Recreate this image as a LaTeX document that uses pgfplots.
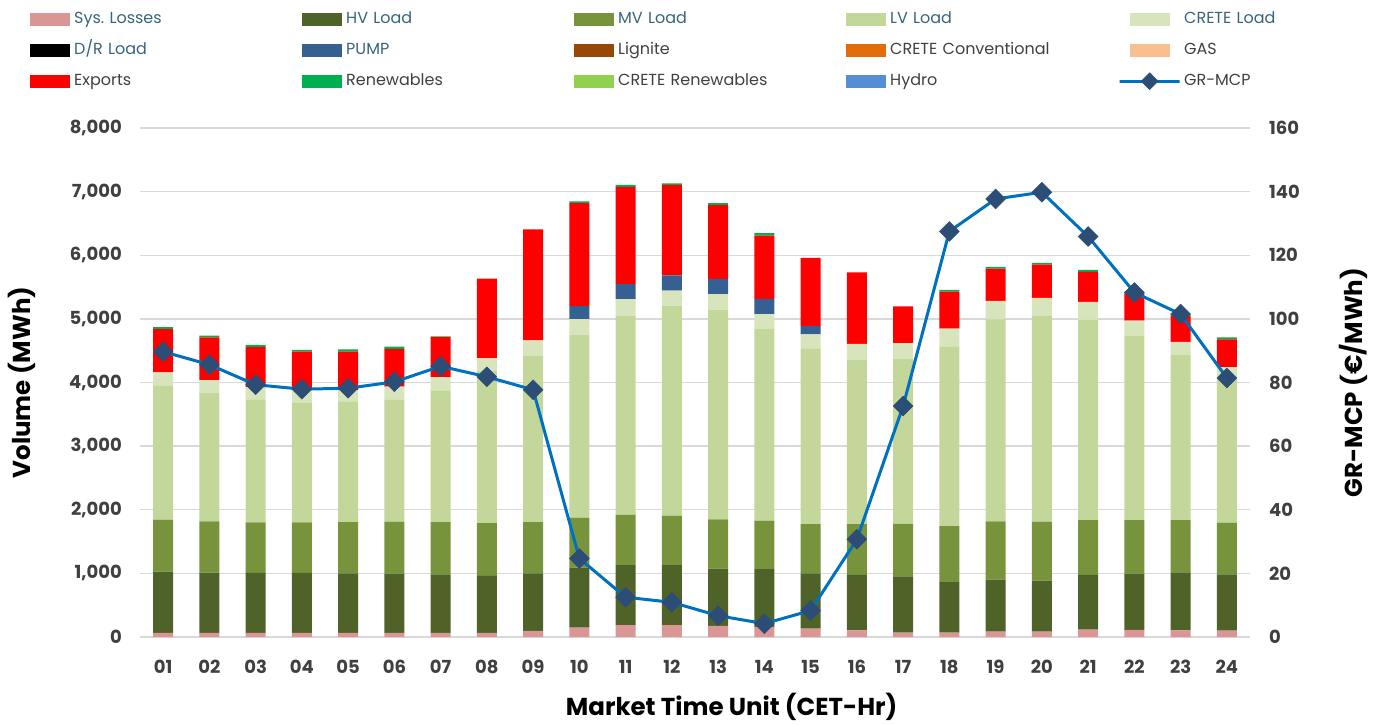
\documentclass[border=0pt]{standalone}
\usepackage{fontspec}
\setmainfont{Poppins}
\usepackage{pgfplots}
\usepackage{pgfplotstable}
\pgfplotsset{compat=1.18}

\definecolor{closs}{HTML}{DA9694}
\definecolor{chv}{HTML}{4F6228}
\definecolor{cmv}{HTML}{77933C}
\definecolor{clv}{HTML}{C4D79B}
\definecolor{ccrete}{HTML}{D8E4BC}
\definecolor{cdr}{HTML}{000000}
\definecolor{cpump}{HTML}{366092}
\definecolor{clig}{HTML}{974706}
\definecolor{cconv}{HTML}{E26B0A}
\definecolor{cgas}{HTML}{FABF8F}
\definecolor{cexp}{HTML}{FF0000}
\definecolor{cren}{HTML}{00B050}
\definecolor{ccren}{HTML}{92D050}
\definecolor{chydro}{HTML}{558ED5}
\definecolor{mcpline}{HTML}{0070C0}
\definecolor{mcpmark}{HTML}{2C4D75}
\definecolor{gridgray}{HTML}{D9D9D9}
\definecolor{tickgray}{HTML}{404040}
\definecolor{legteal}{HTML}{36657A}
\definecolor{leggray}{HTML}{404040}

% segment heights per hour (MWh), GR-MCP in EUR/MWh
\pgfplotstableread{
h loss hv mv lv crete dr pump lig conv gas exp ren cren hydro mcp
1  65  963 816 2109 206 0 0   0 0 0 679  31 0 0 89.7
2  64  948 805 2024 196 0 0   0 0 0 674  25 0 0 85.6
3  64  943 794 1934 191 0 0   0 0 0 635  32 0 0 79.3
4  64  943 794 1886 197 0 0   0 0 0 603  27 0 0 77.9
5  64  937 806 1896 181 0 0   0 0 0 603  32 0 0 78.2
6  64  932 816 1923 202 0 0   0 0 0 593  32 0 0 80.2
7  64  921 822 2063 213 0 0   0 0 0 632  10 0 0 85.1
8  64  895 832 2389 202 0 0   0 0 0 1250  0 0 0 81.8
9  95  906 806 2608 248 0 0   0 0 0 1742  0 0 0 77.7
10 148 943 784 2877 244 0 206 0 0 0 1617 26 0 0 24.7
11 185 943 790 3126 265 0 238 0 0 0 1526 32 0 0 12.5
12 185 943 779 3301 238 0 239 0 0 0 1420 26 0 0 10.9
13 175 900 774 3295 244 0 239 0 0 0 1160 32 0 0 6.7
14 159 906 763 3009 238 0 239 0 0 0 996  37 0 0 4.2
15 132 869 774 2755 227 0 128 0 0 0 1075  0 0 0 8.3
16 106 869 800 2585 249 0 0   0 0 0 1123  0 0 0 30.7
17 69  885 826 2596 244 0 0   0 0 0 577   0 0 0 72.6
18 69  795 879 2824 281 0 0   0 0 0 582  27 0 0 127.5
19 85  816 916 3174 291 0 0   0 0 0 509  26 0 0 137.7
20 85  800 927 3232 286 0 0   0 0 0 524  27 0 0 139.8
21 117 858 863 3147 281 0 0   0 0 0 472  32 0 0 125.9
22 111 885 842 2892 244 0 0   0 0 0 415  25 0 0 108.3
23 106 911 821 2592 207 0 0   0 0 0 415  28 0 0 101.5
24 101 884 811 2264 180 0 0   0 0 0 439  31 0 0 81.4
}\datatable

\pgfplotsset{
  barleg/.style={legend image code/.code={\fill[##1] (0pt,-6.5pt) rectangle (40pt,6.5pt); \path (41pt,0pt);}},
  lineleg/.style={legend image code/.code={\draw[mark repeat=2,mark phase=2,##1] plot coordinates {(0pt,0pt) (20pt,0pt) (40pt,0pt)}; \path (41pt,0pt);}},
}
\tikzset{
  tickfont/.style={font=\bfseries\fontsize{18}{21}\selectfont, text=tickgray, inner sep=0pt},
  labfont/.style={font=\bfseries\fontsize{24.5}{29}\selectfont, text=black},
}

\begin{document}
\begin{tikzpicture}
\path[use as bounding box] (-140pt,-87pt) rectangle (1237pt,637pt);
\begin{axis}[
  width=1110pt, height=509pt, scale only axis,
  xmin=0.5, xmax=24.5, ymin=0, ymax=8000,
  ybar stacked, bar width=20pt,
  xtick={1,...,24},
  xticklabels={01,02,03,04,05,06,07,08,09,10,11,12,13,14,15,16,17,18,19,20,21,22,23,24},
  ytick={0,1000,...,8000},
  scaled y ticks=false,
  /pgf/number format/1000 sep={,},
  /pgf/number format/assume math mode=true,
  ymajorgrids, major grid style={color=gridgray, line width=1.3pt},
  axis line style={draw=none}, tick style={draw=none},
  ticklabel style={tickfont},
  yticklabel style={anchor=east, xshift=-18pt},
  xticklabel style={anchor=north, yshift=-23pt},
  xlabel={Market Time Unit (CET-Hr)},
  ylabel={Volume (MWh)},
  label style={labfont},
  xlabel style={at={(axis description cs:0.533,-0.1365)}, anchor=center},
  ylabel style={at={(axis description cs:-0.1063,0.5)}, anchor=center},
  legend columns=5,
  legend cell align=left,
  legend style={at={(axis description cs:-0.0991,1.2446)}, anchor=north west,
    draw=none, fill=none, inner sep=0pt, row sep=0pt, column sep=0pt,
    font=\fontsize{16}{19}\selectfont,
    nodes={inner xsep=3pt, inner ysep=0pt, text width=225pt, text height=12pt, text depth=4pt, minimum height=31pt, align=left}},
]
\addplot[fill=closs, draw=none, barleg] table[x=h, y=loss]{\datatable};
\addlegendentry{\textcolor{legteal}{Sys.\ Losses}}
\addplot[fill=chv, draw=none, barleg] table[x=h, y=hv]{\datatable};
\addlegendentry{\textcolor{legteal}{HV Load}}
\addplot[fill=cmv, draw=none, barleg] table[x=h, y=mv]{\datatable};
\addlegendentry{\textcolor{legteal}{MV Load}}
\addplot[fill=clv, draw=none, barleg] table[x=h, y=lv]{\datatable};
\addlegendentry{\textcolor{legteal}{LV Load}}
\addplot[fill=ccrete, draw=none, barleg] table[x=h, y=crete]{\datatable};
\addlegendentry{\textcolor{legteal}{CRETE Load}}
\addplot[fill=cdr, draw=none, barleg] table[x=h, y=dr]{\datatable};
\addlegendentry{\textcolor{legteal}{D/R Load}}
\addplot[fill=cpump, draw=none, barleg] table[x=h, y=pump]{\datatable};
\addlegendentry{\textcolor{legteal}{PUMP}}
\addplot[fill=clig, draw=none, barleg] table[x=h, y=lig]{\datatable};
\addlegendentry{\textcolor{leggray}{Lignite}}
\addplot[fill=cconv, draw=none, barleg] table[x=h, y=conv]{\datatable};
\addlegendentry{\textcolor{leggray}{CRETE Conventional}}
\addplot[fill=cgas, draw=none, barleg] table[x=h, y=gas]{\datatable};
\addlegendentry{\textcolor{leggray}{GAS}}
\addplot[fill=cexp, draw=none, barleg] table[x=h, y=exp]{\datatable};
\addlegendentry{\textcolor{leggray}{Exports}}
\addplot[fill=cren, draw=none, barleg] table[x=h, y=ren]{\datatable};
\addlegendentry{\textcolor{leggray}{Renewables}}
\addplot[fill=ccren, draw=none, barleg] table[x=h, y=cren]{\datatable};
\addlegendentry{\textcolor{leggray}{CRETE Renewables}}
\addplot[fill=chydro, draw=none, barleg] table[x=h, y=hydro]{\datatable};
\addlegendentry{\textcolor{leggray}{Hydro}}
\addlegendimage{lineleg, color=mcpline, line width=3pt, mark=square*, mark size=6pt,
  mark options={rotate=45, fill=mcpmark, draw=mcpmark, line width=0.5pt}}
\addlegendentry{\textcolor{leggray}{GR-MCP}}
\end{axis}

\begin{axis}[
  width=1110pt, height=509pt, scale only axis,
  xmin=0.5, xmax=24.5, ymin=0, ymax=160,
  hide x axis,
  ytick={0,20,...,160},
  yticklabel pos=right,
  /pgf/number format/assume math mode=true,
  axis line style={draw=none}, tick style={draw=none},
  ticklabel style={tickfont},
  yticklabel style={anchor=west, xshift=19pt},
  ylabel={GR-MCP (€/MWh)},
  label style={labfont},
  ylabel style={at={(axis description cs:1.0928,0.5)}, anchor=center},
]
\addplot[color=mcpline, line width=3pt, mark=square*, mark size=7pt,
  mark options={rotate=45, fill=mcpmark, draw=mcpmark, line width=0.5pt}]
  table[x=h, y=mcp]{\datatable};
\end{axis}
\end{tikzpicture}
\end{document}
